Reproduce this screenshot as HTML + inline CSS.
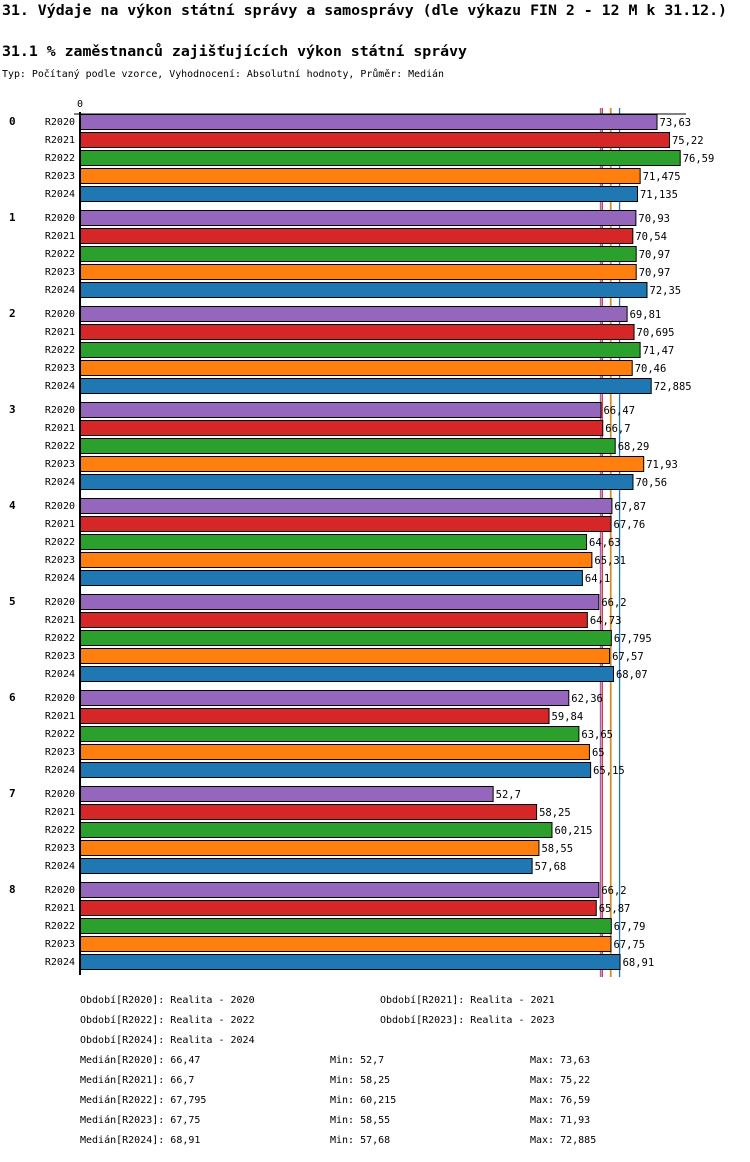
<!DOCTYPE html>
<html><head><meta charset="utf-8"><style>
body{margin:0;background:#fff;width:750px;height:1158px;overflow:hidden;font-family:"DejaVu Sans Mono","Liberation Mono",monospace;}
svg text{font-family:"DejaVu Sans Mono","Liberation Mono",monospace;}
</style></head><body>
<svg id="c" width="750" height="1158" xmlns="http://www.w3.org/2000/svg">
<text x="2" y="15" font-size="14" font-weight="bold" textLength="725" lengthAdjust="spacingAndGlyphs">31. Výdaje na výkon státní správy a samosprávy (dle výkazu FIN 2 - 12 M k 31.12.)</text>
<text x="2" y="56" font-size="14" font-weight="bold" textLength="465" lengthAdjust="spacingAndGlyphs">31.1 % zaměstnanců zajišťujících výkon státní správy</text>
<text x="2" y="77" font-size="10" textLength="442" lengthAdjust="spacingAndGlyphs">Typ: Počítaný podle vzorce, Vyhodnocení: Absolutní hodnoty, Průměr: Medián</text>
<text x="80" y="107" font-size="10" text-anchor="middle">0</text>
<g id="g"></g>
</svg>
<script>
const groups=["0","1","2","3","4","5","6","7","8"];
const series=["R2020","R2021","R2022","R2023","R2024"];
const colors=["#9467bd","#d62728","#2ca02c","#ff7f0e","#1f77b4"];
const values=[
[73.63,75.22,76.59,71.475,71.135],
[70.93,70.54,70.97,70.97,72.35],
[69.81,70.695,71.47,70.46,72.885],
[66.47,66.7,68.29,71.93,70.56],
[67.87,67.76,64.63,65.31,64.1],
[66.2,64.73,67.795,67.57,68.07],
[62.36,59.84,63.65,65,65.15],
[52.7,58.25,60.215,58.55,57.68],
[66.2,65.87,67.79,67.75,68.91]];
const labels=[
["73,63","75,22","76,59","71,475","71,135"],
["70,93","70,54","70,97","70,97","72,35"],
["69,81","70,695","71,47","70,46","72,885"],
["66,47","66,7","68,29","71,93","70,56"],
["67,87","67,76","64,63","65,31","64,1"],
["66,2","64,73","67,795","67,57","68,07"],
["62,36","59,84","63,65","65","65,15"],
["52,7","58,25","60,215","58,55","57,68"],
["66,2","65,87","67,79","67,75","68,91"]];
const medians=[66.47,66.7,67.795,67.75,68.91];
const medLabels=["66,47","66,7","67,795","67,75","68,91"];
const mins=["52,7","58,25","60,215","58,55","57,68"];
const maxs=["73,63","75,22","76,59","71,93","72,885"];
const periods=["Realita - 2020","Realita - 2021","Realita - 2022","Realita - 2023","Realita - 2024"];
const NS="http://www.w3.org/2000/svg";
const g=document.getElementById('g');
const x=v=>80+v*7.83;
const rowY=(gi,si)=>114+gi*96+si*18;
function mk(t,a){const e=document.createElementNS(NS,t);for(const k in a)e.setAttribute(k,a[k]);g.appendChild(e);return e;}
medians.forEach((m,i)=>{const l=mk('line',{x1:x(m),x2:x(m),y1:108,y2:977,stroke:colors[i],'stroke-width':1.3});

});
let ax=mk('line',{x1:74,x2:686,y1:114,y2:114,stroke:'#000','stroke-width':1});


groups.forEach((gn,gi)=>{
 let t=mk('text',{x:9,y:rowY(gi,0)+11,'font-size':11,'font-weight':'bold'});t.textContent=gn;
 
 
 series.forEach((s,si)=>{
  const y=rowY(gi,si);
  let lt=mk('text',{x:75,y:y+11,'font-size':10,'text-anchor':'end'});lt.textContent=s;
  
  
  let r=mk('rect',{x:80.5,y:y+0.5,width:x(values[gi][si])-80,height:15,fill:colors[si],stroke:'#000','stroke-width':1});
  
  
  let vt=mk('text',{x:x(values[gi][si])+3,y:y+12,'font-size':10.5});vt.textContent=labels[gi][si];
  
  
 });
});
let ay=mk('line',{x1:80,x2:80,y1:112,y2:975,stroke:'#000','stroke-width':2});


function ft(xx,yy,s,n){let t=mk('text',{x:xx,y:yy,'font-size':10});t.textContent=s;
 
 }
const pp=[[80,1003],[380,1003],[80,1023],[380,1023],[80,1043]];
series.forEach((s,i)=>ft(pp[i][0],pp[i][1],'Období['+s+']: '+periods[i],'period-legend-'+s));
series.forEach((s,i)=>{const yy=1063+i*20;
 ft(80,yy,'Medián['+s+']: '+medLabels[i],'median-stat-'+s);
 ft(330,yy,'Min: '+mins[i],'min-stat-'+s);
 ft(530,yy,'Max: '+maxs[i],'max-stat-'+s);});
</script>
</body></html>
